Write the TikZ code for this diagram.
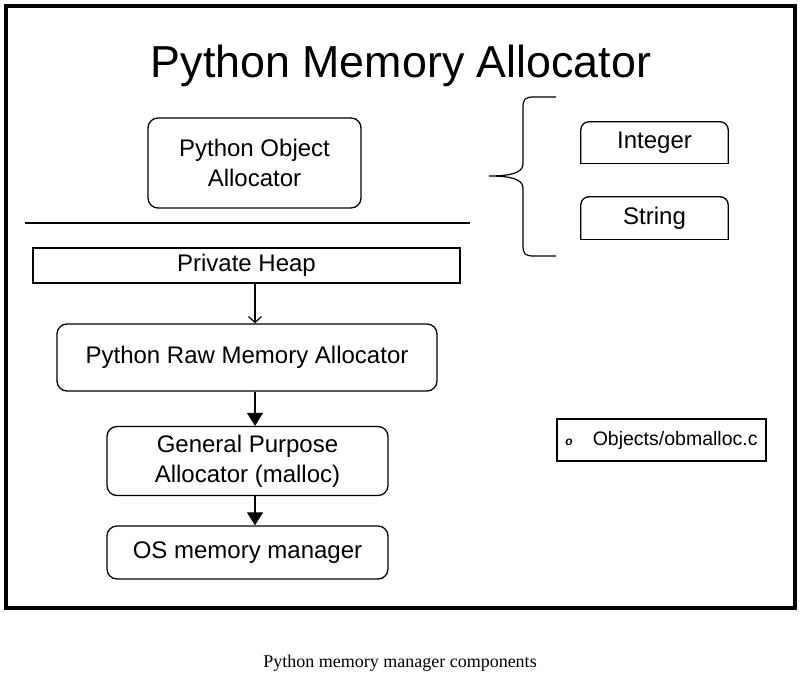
\documentclass[tikz,border=0pt]{standalone}
\usepackage{fontspec}
\setmainfont{Liberation Sans}
\newfontfamily\capfont{Liberation Serif}
\usetikzlibrary{arrows.meta}

\tikzset{
  box/.style={draw, line width=1.3pt, rounded corners=10pt, align=center,
    inner sep=0pt, font=\fontsize{24}{30}\selectfont},
  flatbox/.style={box, sharp corners},
  tab/.style={align=center, inner sep=0pt, font=\fontsize{24}{30}\selectfont},
  flow/.style={line width=1.3pt, -{Triangle[length=13pt,width=16pt]}},
  thin flow/.style={line width=1.2pt, -{Straight Barb[length=6pt,width=13pt]}},
}

\begin{document}
\begin{tikzpicture}[x=1pt, y=-1pt]

  % page size and outer frame
  \useasboundingbox (0,0) rectangle (804,692);
  \draw[line width=4pt] (6,6) rectangle (795,608);

  % title
  \node[anchor=base, font=\fontsize{44.8}{45}\selectfont] (title) at (401,78)
    {Python Memory Allocator};

  % object allocator and its object types
  \node[box, minimum width=213pt, minimum height=90pt] (obj) at (254.5,163)
    {Python Object\\Allocator};
  \node[tab, minimum width=147pt, minimum height=41pt] (int) at (654.5,142.5) {Integer};
  \node[tab, minimum width=147pt, minimum height=42pt] (str) at (654.5,218) {String};

  % tabs with rounded tops only
  \foreach \t in {int, str} {
    \draw[line width=1.3pt, rounded corners=8pt]
      (\t.south east) -- (\t.north east) -- (\t.north west) -- (\t.south west);
    \draw[line width=1.3pt, line cap=rect] (\t.south west) -- (\t.south east);
  }

  % brace
  \draw[line width=1.2pt] (556,97) -- (534,97)
    .. controls (525,97) and (523,99) .. (523,108) -- (523,164)
    .. controls (523,173) and (510,176) .. (489,176)
    .. controls (510,176) and (523,179) .. (523,188) -- (523,245)
    .. controls (523,254) and (525,256) .. (534,256) -- (556,256);

  % separator
  \draw[line width=1.2pt] (25,223) -- (470,223);

  % lower layers
  \node[flatbox, minimum width=427pt, minimum height=35pt] (heap) at (246.5,265.5)
    {Private Heap};
  \node[box, minimum width=380pt, minimum height=67pt] (raw) at (247,357.5)
    {Python Raw Memory Allocator};
  \node[box, minimum width=281pt, minimum height=69pt] (gp) at (247.5,461)
    {General Purpose\\Allocator (malloc)};
  \node[box, minimum width=281pt, minimum height=53pt] (os) at (247.5,552.5)
    {OS memory manager};

  % source file
  \node[draw, line width=1.3pt, minimum width=209pt, minimum height=42pt,
    inner sep=0pt, font=\fontsize{19.5}{20}\selectfont] (src) at (661.5,440)
    {{\fontsize{12}{12}\selectfont\bfseries\itshape o}\hspace{20pt}Objects/obmalloc.c};

  % arrows
  \coordinate (ax) at (255,0);
  \draw[thin flow] (heap.south -| ax) -- (raw.north -| ax);
  \draw[flow] (raw.south -| ax) -- (gp.north -| ax);
  \draw[flow] (gp.south -| ax) -- (os.north -| ax);

  % caption
  \node[anchor=base, font=\capfont\fontsize{18}{18}\selectfont] (cap) at (400,667)
    {Python memory manager components};

\end{tikzpicture}
\end{document}
